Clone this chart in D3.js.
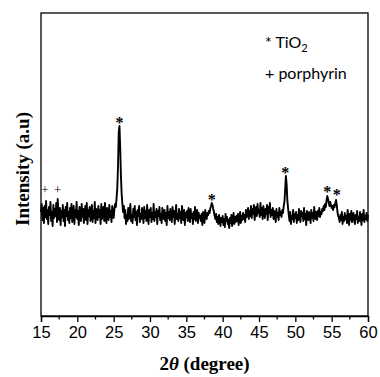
<!DOCTYPE html>
<html>
<head>
<meta charset="utf-8">
<script src="https://cdn.jsdelivr.net/npm/d3@7"></script>
<style>
  body { margin: 0; background: #fff; }
  svg { display: block; }
</style>
</head>
<body>
<div id="xrd_chart"></div>
<script>
// XRD scan: 2theta from 15 to 60 deg, step 0.1 deg
const scanStart = 15;
const scanStep = 0.1;
const intensity = [
  104, 112, 96, 108, 93, 110, 99, 115, 97, 106,    // 15
  92, 109, 101, 114, 95, 104, 90, 111, 98, 107,    // 16
  100, 113, 94, 117, 102, 96, 108, 91, 105, 99,    // 17
  111, 95, 106, 90, 109, 100, 113, 96, 104, 93,    // 18
  108, 98, 112, 94, 103, 110, 92, 106, 99, 114,    // 19
  97, 105, 91, 109, 101, 95, 112, 99, 107, 93,     // 20
  104, 110, 96, 113, 92, 106, 100, 109, 95, 103,   // 21
  111, 94, 105, 98, 114, 93, 107, 101, 96, 110,    // 22
  99, 106, 92, 112, 97, 104, 109, 95, 113, 100,    // 23
  93, 108, 102, 96, 111, 99, 105, 94, 110, 103,    // 24
  98, 107, 112, 109, 118, 128, 150, 184, 190, 168, // 25
  140, 122, 112, 104, 110, 98, 106, 92, 101, 95,   // 26
  108, 97, 104, 112, 95, 101, 93, 107, 99, 110,    // 27
  96, 104, 91, 106, 100, 110, 94, 102, 97, 108,    // 28
  101, 93, 109, 98, 105, 95, 111, 100, 92, 106,    // 29
  99, 108, 94, 103, 97, 112, 95, 104, 99, 107,     // 30
  92, 105, 100, 109, 96, 102, 93, 108, 101, 97,    // 31
  106, 95, 103, 91, 110, 98, 104, 96, 107, 100,    // 32
  94, 109, 99, 105, 92, 103, 111, 97, 102, 95,     // 33
  107, 98, 104, 93, 110, 100, 96, 106, 91, 103,    // 34
  99, 105, 95, 108, 101, 94, 107, 98, 102, 92,     // 35
  104, 97, 109, 95, 101, 106, 93, 103, 98, 100,    // 36
  95, 102, 91, 104, 98, 93, 106, 100, 97, 103,     // 37
  101, 105, 103, 108, 110, 113, 111, 107, 104, 100, // 38
  97, 102, 94, 99, 92, 101, 96, 90, 98, 94,        // 39
  100, 91, 97, 89, 102, 95, 99, 92, 96, 88,        // 40
  98, 93, 101, 90, 96, 103, 92, 99, 94, 100,       // 41
  95, 102, 91, 98, 104, 93, 100, 96, 103, 97,      // 42
  101, 94, 106, 99, 103, 108, 97, 105, 100, 110,   // 43
  98, 107, 102, 111, 96, 104, 109, 100, 112, 103,  // 44
  106, 99, 113, 101, 108, 97, 110, 104, 98, 107,   // 45
  102, 111, 96, 109, 103, 113, 99, 106, 101, 108,  // 46
  97, 105, 100, 94, 107, 99, 103, 96, 108, 101,    // 47
  104, 99, 106, 103, 110, 114, 126, 140, 132, 116, // 48
  108, 101, 95, 104, 92, 100, 97, 106, 94, 102,    // 49
  98, 104, 93, 101, 96, 107, 99, 94, 105, 100,     // 50
  103, 95, 108, 97, 102, 91, 105, 99, 96, 104,     // 51
  100, 93, 106, 98, 103, 95, 109, 101, 97, 104,    // 52
  96, 105, 100, 108, 99, 104, 102, 107, 105, 110,  // 53
  106, 112, 109, 116, 120, 117, 113, 110, 114, 111, // 54
  108, 110, 106, 111, 109, 113, 116, 111, 104, 100, // 55
  98, 94, 101, 96, 104, 92, 99, 95, 103, 97,       // 56
  100, 93, 106, 98, 91, 102, 96, 105, 94, 99,      // 57
  103, 96, 92, 101, 97, 105, 93, 99, 95, 104,      // 58
  98, 91, 102, 96, 106, 94, 100, 97, 103, 95,      // 59
  101                                              // 60
];

// peak markers
const tio2Angles = [25.8, 38.5, 48.6, 54.4, 55.7];
const tio2Levels = [198, 121, 148, 129, 126];
const porphAngles = [15.55, 17.3];
const porphLevels = [126, 126];

const xTicks = [15, 20, 25, 30, 35, 40, 45, 50, 55, 60];
const xMinorTicks = [17.5, 22.5, 27.5, 32.5, 37.5, 42.5, 47.5, 52.5, 57.5];

const width = 380, height = 377;
const margin = {top: 13, right: 12, bottom: 61, left: 41};

const svg = d3.select("#xrd_chart")
  .append("svg")
  .attr("width", width)
  .attr("height", height);

svg.append("rect").attr("width", width).attr("height", height).attr("fill", "#fff");

const x = d3.scaleLinear()
  .domain([15, 60])
  .range([margin.left, width - margin.right]);
const y = d3.scaleLinear()
  .domain([0, 303])
  .range([height - margin.bottom, margin.top]);

const scan = intensity.map(function (v, i) {
  return {t: scanStart + i * scanStep, v: v};
});

// the pattern
svg.append("path")
  .datum(scan)
  .attr("fill", "none")
  .attr("stroke", "#000")
  .attr("stroke-width", 1.9)
  .attr("stroke-linejoin", "round")
  .attr("d", d3.line()
    .x(function (d) { return x(d.t); })
    .y(function (d) { return y(d.v); }));

// frame
const x0 = margin.left, x1 = width - margin.right;
const y0 = margin.top, y1 = height - margin.bottom;
svg.append("rect")
  .attr("x", x0).attr("y", y0)
  .attr("width", x1 - x0).attr("height", y1 - y0)
  .attr("fill", "none")
  .attr("stroke", "#000")
  .attr("stroke-width", 1.3);

// bottom axis
const xAxis = svg.append("g")
  .attr("transform", "translate(0," + y1 + ")")
  .call(d3.axisBottom(x).tickValues(xTicks).tickSize(6).tickPadding(4).tickFormat(d3.format("d")));
xAxis.select(".domain").attr("stroke-width", 1.3);
xAxis.selectAll(".tick line").attr("stroke-width", 1.3);
xAxis.selectAll("text")
  .attr("font-family", "'Liberation Sans', Arial, sans-serif")
  .attr("font-size", 16.5)
  .attr("fill", "#000");

svg.append("g")
  .selectAll("line")
  .data(xMinorTicks)
  .enter()
  .append("line")
  .attr("x1", function (d) { return x(d); })
  .attr("x2", function (d) { return x(d); })
  .attr("y1", y1)
  .attr("y2", y1 + 3.5)
  .attr("stroke", "#000")
  .attr("stroke-width", 1.3);

// axis titles
const xTitle = svg.append("text")
  .attr("x", (x0 + x1) / 2)
  .attr("y", 370)
  .attr("text-anchor", "middle")
  .attr("font-family", "'Liberation Serif', 'Times New Roman', serif")
  .attr("font-weight", "bold")
  .attr("font-size", 19);
xTitle.append("tspan").text("2");
xTitle.append("tspan").attr("font-style", "italic").text("θ");
xTitle.append("tspan").text(" (degree)");

svg.append("text")
  .attr("transform", "translate(29," + 169 + ") rotate(-90)")
  .attr("text-anchor", "middle")
  .attr("font-family", "'Liberation Serif', 'Times New Roman', serif")
  .attr("font-weight", "bold")
  .attr("font-size", 19)
  .text("Intensity (a.u)");

// peak marks
svg.append("g")
  .selectAll("text")
  .data(tio2Angles)
  .enter()
  .append("text")
  .attr("x", function (d) { return x(d); })
  .attr("y", function (d, i) { return y(tio2Levels[i]); })
  .attr("dy", "0.62em")
  .attr("text-anchor", "middle")
  .attr("font-family", "'Liberation Serif', serif")
  .attr("font-weight", "bold")
  .attr("font-size", 16)
  .attr("fill", "#000")
  .text("*");

svg.append("g")
  .selectAll("text")
  .data(porphAngles)
  .enter()
  .append("text")
  .attr("x", function (d) { return x(d); })
  .attr("y", function (d, i) { return y(porphLevels[i]); })
  .attr("dy", "0.32em")
  .attr("text-anchor", "middle")
  .attr("font-family", "'Liberation Serif', serif")
  .attr("font-size", 13)
  .attr("fill", "#000")
  .text("+");

// legend
const legend = svg.append("g")
  .attr("font-family", "Lato, 'Open Sans', sans-serif")
  .attr("font-size", 16)
  .attr("fill", "#000");
const leg1 = legend.append("text").attr("x", 265).attr("y", 48);
leg1.append("tspan").text("* TiO");
leg1.append("tspan").attr("font-size", 11).attr("dy", 4).text("2");
legend.append("text").attr("x", 265).attr("y", 79).text("+ porphyrin");
</script>
</body>
</html>
